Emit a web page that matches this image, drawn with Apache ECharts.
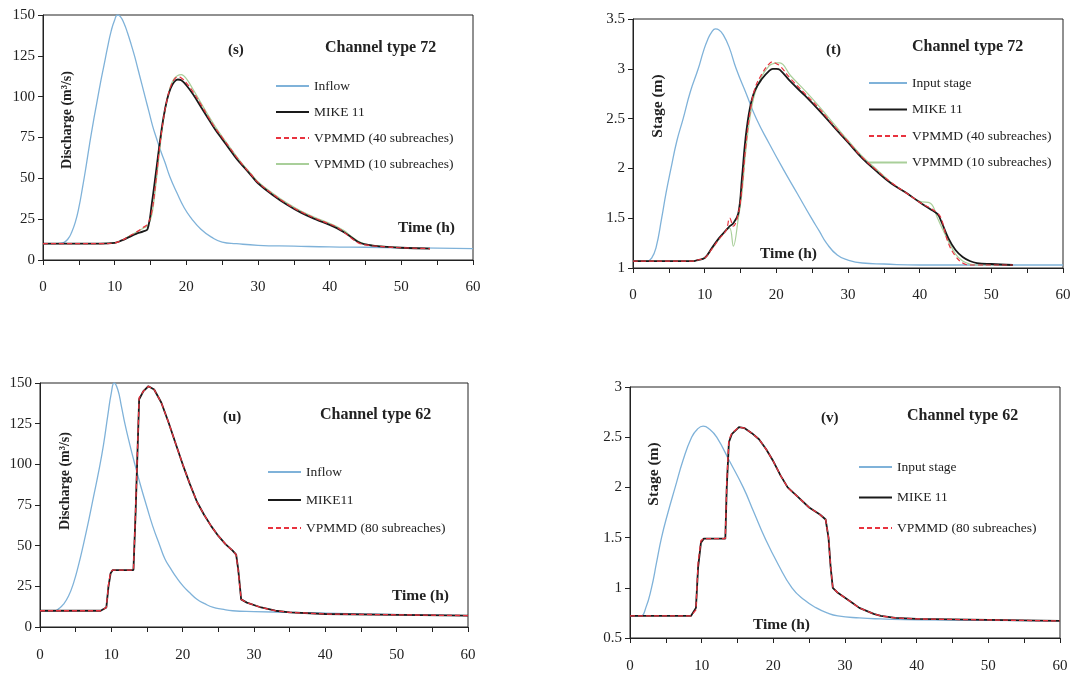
<!DOCTYPE html>
<html>
<head>
<meta charset="utf-8">
<script src="https://cdn.jsdelivr.net/npm/echarts@6/dist/echarts.min.js"></script>
<style>
html,body{margin:0;padding:0;background:#fff;}
#chart{width:1079px;height:680px;}
</style>
</head>
<body>
<div id="chart"></div>
<script>
// ---------- Panel (s): discharge, channel type 72 ----------
const sInflowT = [0,2,2.8,3.5,4,4.5,5,5.5,6,6.5,7,7.5,8,8.5,9,9.5,10,10.4,10.8,11.3,11.8,12.3,12.8,13.3,13.8,14.3,14.8,15.3,15.8,16.4,17,17.7,18.7,19.7,20.7,22,23.5,25,27,30,35,40,45,50,55,60];
const sInflow  = [10,10,10.5,13,17,23,32,44,57,71,84,96,108,119,130,140,147,150,149,145,139,132,124.5,116,107.5,99,90.5,82,75,67,60,51,41,32,25.5,19,14,11,10,9,8.5,8,7.8,7.5,7.3,7];
const sModelT  = [0,5,8,10,11,12,13,14,14.6,15.2,15.8,16.3,16.8,17.3,17.8,18.3,18.8,19.3,20,21,22,23,24,25,26,27,28,29,30,32,34,36,38,40,41,42,43,44,45,46,48,50,54];
const sMike    = [10,10,10,10.5,12,14,16,17.5,19,35,55,72,87,98,105,109,110.5,110,107,101,94,87,80,74,68,62,57,52,47,40,34,29,25,21.5,19.5,17,14,11,9.5,8.8,8,7.5,7];
const sVp40    = [10,10,10,10.5,12,14.5,17,20,22,30,50,70,86,98,106,110.5,112,111.5,108.5,102.5,95.5,88,81,75,69,63,57.5,52.5,47.5,40.5,34.5,29.5,25.5,22,20,17,13.5,10.5,9.3,8.7,8,7.5,7];
const sVp10    = [10,10,10,10.5,12,14.5,17,19.5,21,28,48,68,85,98,106.5,111,113,113.5,111,104,96.5,89,82,75.5,69.5,63.5,58,53,48,41,35,30,26,22.5,20.5,18,14.5,11.5,9.8,9,8.2,7.6,7.2];

// ---------- Panel (t): stage, channel type 72 ----------
const tInputT  = [0,2,2.6,3.2,4,4.6,5.3,6.1,7,8,9.1,9.8,10.4,11,11.5,12,12.6,13.4,14.4,15.8,17.2,19,20.9,22.9,24.9,26,27,28.5,30,32,35,40,50,60];
const tInput   = [1.07,1.07,1.1,1.2,1.5,1.75,2.0,2.27,2.5,2.77,3.0,3.17,3.29,3.37,3.4,3.39,3.34,3.22,3.0,2.75,2.5,2.25,2.0,1.75,1.5,1.37,1.25,1.13,1.08,1.05,1.04,1.03,1.03,1.03];
const tModelT  = [0,8.5,9,10,11,12,13,13.5,14,14.7,15.2,15.7,16.3,17,18,19,19.5,20,20.5,22,24,26,28,30,32,34,36,38,40,41.5,42.5,43,44,45,46,47,48,50,53];
const tMike    = [1.07,1.07,1.08,1.1,1.2,1.3,1.38,1.42,1.45,1.55,1.9,2.3,2.6,2.78,2.9,2.98,3.0,3.0,2.99,2.87,2.73,2.58,2.42,2.26,2.1,1.97,1.85,1.76,1.66,1.59,1.54,1.47,1.3,1.18,1.11,1.07,1.05,1.04,1.03];
const tVp40    = [1.07,1.07,1.08,1.1,1.19,1.29,1.38,1.5,1.42,1.55,1.8,2.2,2.55,2.8,2.95,3.05,3.07,3.05,3.03,2.9,2.75,2.6,2.43,2.27,2.11,1.98,1.86,1.76,1.66,1.6,1.55,1.5,1.25,1.12,1.05,1.03,1.03,1.03,1.03];
const tVp10    = [1.07,1.07,1.08,1.1,1.19,1.29,1.38,1.4,1.22,1.5,1.75,2.15,2.5,2.75,2.93,3.03,3.05,3.06,3.06,2.93,2.78,2.62,2.45,2.28,2.12,1.99,1.86,1.76,1.67,1.65,1.5,1.42,1.27,1.14,1.07,1.04,1.03,1.03,1.03];

// ---------- Panel (u): discharge, channel type 62 ----------
const uInflowT = [0,2,2.7,3.3,4,4.7,5.4,6.1,6.8,7.5,8.2,8.9,9.5,10,10.4,10.9,11.4,11.9,12.6,13.3,14.1,14.9,15.8,16.8,17.5,18.3,19.2,20.1,21,22,23,24.3,25.5,27,30,35,45,60];
const uInflow  = [10,10,11.5,14,19,27,38,51,65,80,95,112,130,144,150,146,136,125,112,100,87,75,62,50,42,36,30,25,21,17,14.5,12,11,10,9.5,9,8,7];
const uModelT  = [0,8.5,9.3,9.6,9.9,10.2,13.1,13.4,13.9,14.5,15.2,16,17,18,19,20,21,22,23,24,25,26,27,27.5,27.8,28.2,29,31,33,35,40,50,60];
const uMike    = [10,10,12,25,33,35,35,70,140,145,148,146,138,126,113,100,88,77,69,62,56,51,47,44.5,35,17,15,12,10,9,8,7.5,7];
const uVp80    = [10,10,12,26,34,35,35,72,141,145,148,146,138,126,113,100,88,77,69,62,56,51,47,44.5,34,17,15,12,10,9,8,7.5,7];

// ---------- Panel (v): stage, channel type 62 ----------
const vInputT  = [0,1.5,2.2,3,3.7,4.4,5.3,6.3,7.4,8.6,9.4,10.2,11.1,12.1,13.9,15.8,17.3,18.8,20.7,22.6,24.3,26,27.5,29,32,35,40,60];
const vInput   = [0.72,0.72,0.8,1.0,1.25,1.5,1.75,2.0,2.27,2.5,2.58,2.61,2.58,2.5,2.26,2.0,1.75,1.5,1.23,1.0,0.88,0.8,0.75,0.72,0.7,0.69,0.68,0.67];
const vModelT  = [0,8.5,9.2,9.5,9.9,10.3,13.3,13.5,13.8,14.2,15.2,16,17,18,19,20,21,22,23.5,25,26.5,27.3,27.7,28,28.3,29,30,31,32,33,34,35,37,40,50,60];
const vMike    = [0.72,0.72,0.8,1.2,1.45,1.49,1.49,2.0,2.45,2.53,2.6,2.59,2.54,2.48,2.38,2.26,2.12,2.0,1.9,1.8,1.73,1.68,1.5,1.2,1.0,0.95,0.9,0.85,0.8,0.77,0.74,0.72,0.7,0.69,0.68,0.67];
const vVp80    = [0.72,0.72,0.78,1.25,1.47,1.49,1.49,2.05,2.47,2.54,2.6,2.59,2.54,2.48,2.38,2.26,2.12,2.0,1.9,1.8,1.73,1.68,1.5,1.2,1.0,0.95,0.9,0.85,0.8,0.77,0.74,0.72,0.7,0.69,0.68,0.67];

const xTicks = [0,10,20,30,40,50,60];

// ---------- styling ----------
const FONT = '"Liberation Serif", "DejaVu Serif", serif';
const BLUE = '#7fb2d9';
const BLACK = '#1a1a1a';
const RED = '#e8333f';
const PALE = '#a9cf9a';

function zip(t, v) { return t.map((x, i) => [x, v[i]]); }

const grids = [
  {left: 43, top: 15, width: 430, height: 245},
  {left: 633, top: 19, width: 430, height: 249},
  {left: 40, top: 383, width: 428, height: 244},
  {left: 630, top: 387, width: 430, height: 251}
].map(g => Object.assign({show: true, borderColor: '#222', borderWidth: 1, backgroundColor: 'transparent'}, g));

const xAxes = [0,1,2,3].map(i => ({
  type: 'value', gridIndex: i, min: 0, max: 60, interval: 5,
  axisLine: {lineStyle: {color: '#222', width: 1}},
  axisTick: {length: 5, lineStyle: {color: '#222'}},
  splitLine: {show: false},
  axisLabel: {
    margin: i < 2 ? 20 : 21, fontFamily: FONT, fontSize: 15, color: '#222',
    formatter: v => xTicks.indexOf(v) >= 0 ? String(v) : ''
  }
}));

const yDefs = [[0,150,25],[1,3.5,0.5],[0,150,25],[0.5,3,0.5]];
const yAxes = yDefs.map((d, i) => ({
  type: 'value', gridIndex: i, min: d[0], max: d[1], interval: d[2],
  axisLine: {show: true, lineStyle: {color: '#222', width: 1}},
  axisTick: {show: true, length: 5, lineStyle: {color: '#222'}},
  splitLine: {show: false},
  axisLabel: {margin: 8, fontFamily: FONT, fontSize: 15, color: '#222'}
}));

function line(name, idx, t, v, color, width, dashed, z, sm) {
  return {
    name, type: 'line', xAxisIndex: idx, yAxisIndex: idx,
    data: zip(t, v), showSymbol: false, symbol: 'none', smooth: sm || 0.4,
    lineStyle: {color, width, type: dashed ? [5, 3] : 'solid'},
    itemStyle: {color}, z: z || 2
  };
}
function stepLine(name, idx, t, v, color, width, dashed, z) {
  const s = line(name, idx, t, v, color, width, dashed, z);
  s.smooth = false;
  return s;
}

const series = [
  line('Inflow', 0, sInflowT, sInflow, BLUE, 1.3, false, 2, 0.5),
  line('VPMMD (10 subreaches)', 0, sModelT, sVp10, PALE, 1.2, false, 3),
  line('MIKE 11', 0, sModelT, sMike, BLACK, 1.8, false, 4),
  line('VPMMD (40 subreaches)', 0, sModelT, sVp40, RED, 1.2, true, 5),

  line('Input stage', 1, tInputT, tInput, BLUE, 1.3, false, 2, 0.5),
  line('VPMMD (10 subreaches)', 1, tModelT, tVp10, PALE, 1.2, false, 3),
  line('MIKE 11', 1, tModelT, tMike, BLACK, 1.8, false, 4),
  line('VPMMD (40 subreaches)', 1, tModelT, tVp40, RED, 1.2, true, 5),

  line('Inflow', 2, uInflowT, uInflow, BLUE, 1.3, false, 2, 0.5),
  stepLine('MIKE11', 2, uModelT, uMike, BLACK, 1.8, false, 4),
  stepLine('VPMMD (80 subreaches)', 2, uModelT, uVp80, RED, 1.3, true, 5),

  line('Input stage', 3, vInputT, vInput, BLUE, 1.3, false, 2, 0.5),
  stepLine('MIKE 11', 3, vModelT, vMike, BLACK, 1.8, false, 4),
  stepLine('VPMMD (80 subreaches)', 3, vModelT, vVp80, RED, 1.3, true, 5)
];

function legend(left, top, gap, w, names) {
  return {
    left, top, orient: 'vertical', itemGap: gap, itemWidth: w, itemHeight: 14, padding: 0,
    data: names.map(n => ({name: n, itemStyle: {opacity: 0}})), selectedMode: false,
    itemStyle: {opacity: 0},
    textStyle: {fontFamily: FONT, fontSize: 13.5, color: '#222'}
  };
}

const legends = [
  legend(275, 79, 12, 33, ['Inflow', 'MIKE 11', 'VPMMD (40 subreaches)', 'VPMMD (10 subreaches)']),
  legend(868, 76, 12.5, 38, ['Input stage', 'MIKE 11', 'VPMMD (40 subreaches)', 'VPMMD (10 subreaches)']),
  legend(267, 465, 14, 33, ['Inflow', 'MIKE11', 'VPMMD (80 subreaches)']),
  legend(858, 460, 16.5, 33, ['Input stage', 'MIKE 11', 'VPMMD (80 subreaches)'])
];

function txt(text, x, y, size) {
  return {
    type: 'text', x, y, z: 100,
    style: {text, fontFamily: FONT, fontSize: size, fontWeight: 'bold', fill: '#222',
            textAlign: 'left', textVerticalAlign: 'middle'}
  };
}
function vtxt(text, x, y, size) {
  return {
    type: 'text', x, y, rotation: Math.PI / 2, z: 100,
    style: {text, fontFamily: FONT, fontSize: size, fontWeight: 'bold', fill: '#222',
            textAlign: 'center', textVerticalAlign: 'middle'}
  };
}

const graphics = [
  txt('(s)', 228, 50, 15),
  txt('Channel type 72', 325, 48, 16),
  vtxt('Discharge (m³/s)', 67, 120, 14),
  txt('Time (h)', 398, 228, 15.5),

  txt('(t)', 826, 50, 15),
  txt('Channel type 72', 912, 47, 16),
  vtxt('Stage (m)', 658, 106, 15.5),
  txt('Time (h)', 760, 254, 15.5),

  txt('(u)', 223, 417, 15),
  txt('Channel type 62', 320, 415, 16),
  vtxt('Discharge (m³/s)', 65, 481, 14),
  txt('Time (h)', 392, 596, 15.5),

  txt('(v)', 821, 418, 15),
  txt('Channel type 62', 907, 416, 16),
  vtxt('Stage (m)', 654, 474, 15.5),
  txt('Time (h)', 753, 625, 15.5)
];

const chart = echarts.init(document.getElementById('chart'), null, {renderer: 'canvas'});
chart.setOption({
  animation: false,
  backgroundColor: '#fff',
  grid: grids,
  xAxis: xAxes,
  yAxis: yAxes,
  legend: legends,
  series,
  graphic: graphics
});
</script>
</body>
</html>
